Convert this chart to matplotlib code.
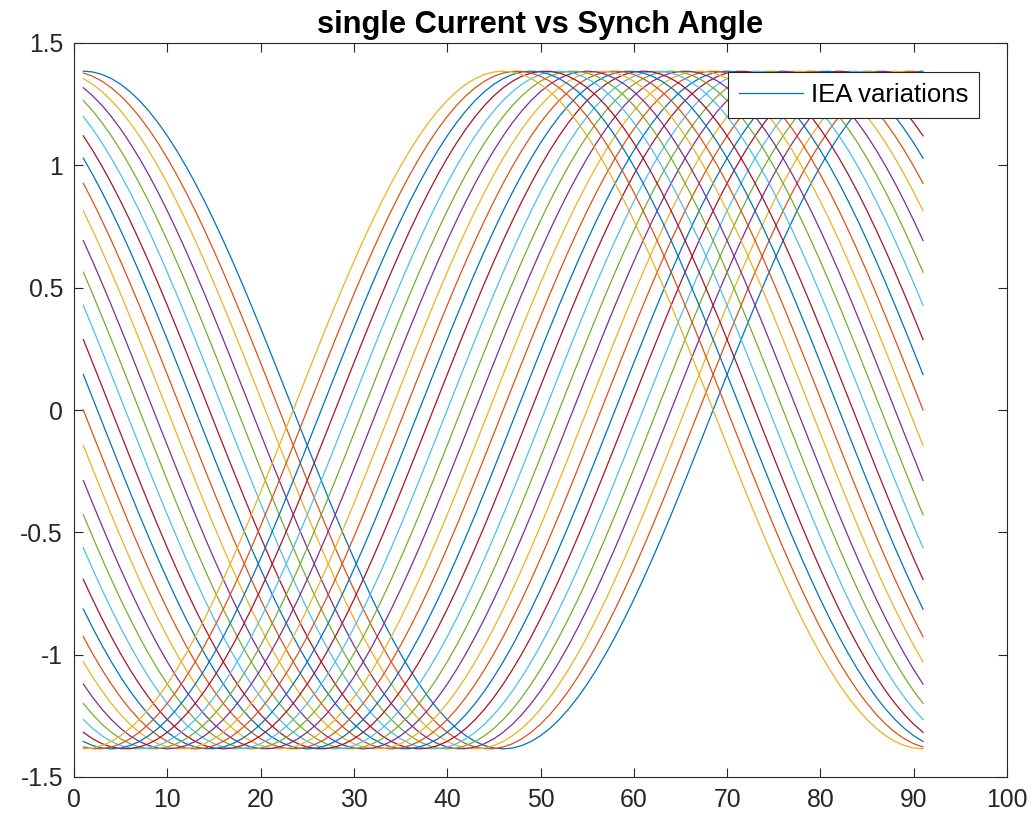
import numpy as np
import matplotlib.pyplot as plt

plt.rcParams['font.family'] = ['Liberation Sans', 'DejaVu Sans']

# synch angle sample index (1..91), each step is 4 degrees of electrical angle
sample = list(range(1, 92))
step_deg = 4.0
# amplitude of the armature current IEA
iea_amp = 1.385
# phase offset of each IEA variation, degrees
phase_deg = [0, 6, 12, 18, 24, 30, 36, 42, 48, 54, 60, 66, 72, 78, 84, 90,
             96, 102, 108, 114, 120, 126, 132, 138, 144, 150, 156, 162, 168, 174, 180]

matlab_colors = ['#0072BD', '#D95319', '#EDB120', '#7E2F8E',
                 '#77AC30', '#4DBEEE', '#A2142F']

x = np.array(sample)
fig = plt.figure(figsize=(10.35, 8.27), dpi=100)
ax = fig.add_axes([74 / 1035, 1 - 777 / 827, (1007 - 74) / 1035, (777 - 43) / 827])

for k, ph in enumerate(phase_deg):
    y = iea_amp * np.cos(np.deg2rad(step_deg * (x - 1) + ph))
    ax.plot(x, y, color=matlab_colors[k % 7], lw=0.9,
            label='IEA variations' if k == 0 else None)

ax.set_xlim(0, 100)
ax.set_ylim(-1.5, 1.5)
ax.set_xticks(range(0, 101, 10))
ax.set_yticks([-1.5, -1, -0.5, 0, 0.5, 1, 1.5])
ax.set_yticklabels(['-1.5', '-1', '-0.5', '0', '0.5', '1', '1.5'])
ax.tick_params(direction='in', length=6.5, width=0.8, colors='#262626',
               labelsize=17.8, top=True, right=True, pad=8)
for s in ax.spines.values():
    s.set_color('#262626')
    s.set_linewidth(0.8)

ax.set_title('single Current vs Synch Angle', fontsize=22.2, fontweight='bold', pad=7)

leg = ax.legend(loc='upper right', bbox_to_anchor=((979 - 74) / 933, (777 - 72) / 734),
                fontsize=18.5, fancybox=False, framealpha=1, edgecolor='#262626',
                handlelength=2.5, borderpad=0.42, handletextpad=0.3, borderaxespad=0,
                handleheight=0.6)
leg.get_frame().set_linewidth(0.8)

fig.savefig('out.png', dpi=100)
